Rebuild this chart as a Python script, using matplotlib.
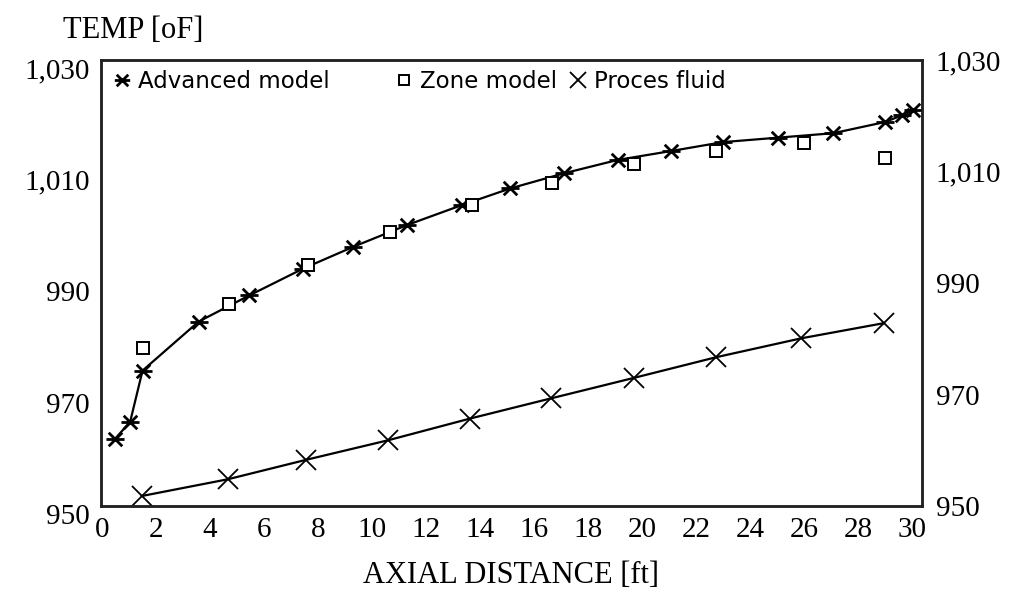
import matplotlib
matplotlib.use("Agg")
import matplotlib.pyplot as plt
from matplotlib.legend import Legend
from matplotlib.path import Path
from matplotlib.transforms import ScaledTranslation

# Advanced model (wall temperature along the tube)
adv_x = [0.47, 1.04, 1.50, 3.58, 5.46, 7.45, 9.30, 11.29, 13.33, 15.13,
         17.11, 19.10, 21.08, 23.00, 25.04, 27.09, 29.00, 29.63, 30.06]
adv_t = [962.0, 965.1, 974.3, 983.1, 987.8, 992.6, 996.5, 1000.4, 1004.0, 1007.0,
         1009.7, 1012.1, 1013.7, 1015.3, 1016.1, 1016.9, 1018.9, 1020.1, 1021.0]

# Zone model points
zone_x = [1.50, 4.72, 7.63, 10.67, 13.70, 16.68, 19.71, 22.75, 26.00, 29.00]
zone_t = [978.4, 986.2, 993.2, 999.2, 1004.0, 1007.9, 1011.3, 1013.7, 1015.2, 1012.5]

# Process fluid temperature
fluid_x = [1.48, 4.66, 7.57, 10.60, 13.64, 16.62, 19.71, 22.75, 25.91, 28.95]
fluid_t = [951.8, 954.8, 958.3, 961.8, 965.7, 969.3, 973.0, 976.7, 980.1, 982.8]

x_ticks = list(range(0, 31, 2))
y_ticks = [950, 970, 990, 1010, 1030]
y_tick_labels = ["950", "970", "990", "1,010", "1,030"]

serif = "Liberation Serif"
sans = "DejaVu Sans"

# asterisk: horizontal bar crossed by an X
star = Path([(-1, 0), (1, 0), (-0.75, -0.75), (0.75, 0.75), (-0.75, 0.75), (0.75, -0.75)],
            [Path.MOVETO, Path.LINETO, Path.MOVETO, Path.LINETO, Path.MOVETO, Path.LINETO])

fig = plt.figure(figsize=(10.21, 5.96), dpi=100)
ax = fig.add_axes([0.0989, 0.151, 0.804, 0.748])

ax.plot(adv_x, adv_t, color="black", lw=1.6, zorder=2)
ax.plot(fluid_x, fluid_t, color="black", lw=1.6, zorder=2)
h_adv, = ax.plot(adv_x, adv_t, ls="none", marker=star, ms=13, mew=2.0, mec="black",
                 label="Advanced model", zorder=3)
h_zone, = ax.plot(zone_x, zone_t, ls="none", marker="s", ms=8, mfc="white", mec="black",
                  mew=1.4, label="Zone model", zorder=4)
h_fluid, = ax.plot(fluid_x, fluid_t, ls="none", marker="x", ms=14, mew=1.3, color="black",
                   label="Proces fluid", zorder=3)

ax.set_xlim(-0.04, 30.37)
ax.set_ylim(950, 1030)
ax.set_xticks(x_ticks)
ax.set_xticklabels([str(v) for v in x_ticks], fontsize=21, family=serif)
ax.set_yticks(y_ticks)
ax.set_yticklabels(y_tick_labels, fontsize=21, family=serif)
ax.tick_params(axis="both", length=0)
ax.tick_params(axis="x", pad=8)
ax.tick_params(axis="y", pad=8)
shift = ScaledTranslation(0, -0.08, fig.dpi_scale_trans)
for lab in ax.get_yticklabels():
    lab.set_transform(lab.get_transform() + shift)

ax2 = ax.twinx()
ax2.set_ylim(950, 1030)
ax2.set_yticks(y_ticks)
ax2.set_yticklabels(y_tick_labels, fontsize=21, family=serif)
ax2.tick_params(axis="y", length=0, pad=10)

for a in (ax, ax2):
    for s in a.spines.values():
        s.set_color("#222222")
        s.set_linewidth(1.8)

ax.set_xlabel("AXIAL DISTANCE [ft]", fontsize=22, family=serif, labelpad=13)
fig.text(0.062, 0.948, "TEMP [oF]", fontsize=22, family=serif, va="center", ha="left")

# one legend entry per box, spaced as in the key row
for handle, x_anchor in ((h_adv, 0.016), (h_zone, 0.3593), (h_fluid, 0.5712)):
    leg = Legend(ax2, [handle], [handle.get_label()], loc="center left",
                 bbox_to_anchor=(x_anchor, 0.952), frameon=False,
                 prop={"family": sans, "size": 16.5}, handlelength=0.7,
                 handletextpad=0.35, borderpad=0, borderaxespad=0,
                 markerscale=0.85)
    ax2.add_artist(leg)

fig.savefig("out.png", dpi=100, facecolor="white")
